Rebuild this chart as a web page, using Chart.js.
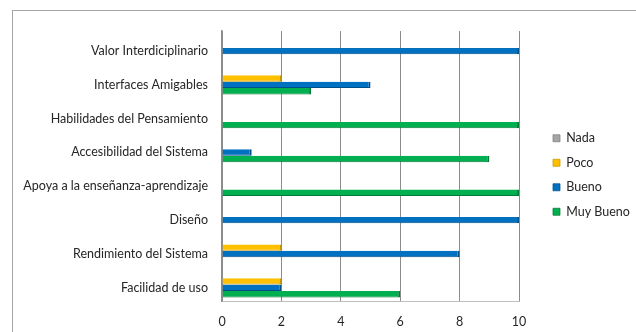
<!DOCTYPE html>
<html>
<head>
<meta charset="utf-8">
<script src="https://cdn.jsdelivr.net/npm/chart.js@4.4.1/dist/chart.umd.min.js"></script>
<style>
  html, body { margin: 0; padding: 0; background: #fff; overflow: hidden; }
  #marco { position: absolute; left: 12px; top: 10px; width: 700px; height: 400px;
           border-left: 1px solid #a6a6a6; border-top: 1px solid #a6a6a6; }
  #grafico { position: absolute; left: 0; top: 0; }
</style>
</head>
<body>
<div id="marco"></div>
<canvas id="grafico" width="636" height="332"></canvas>
<script>
const ctx = document.getElementById('grafico')

// datos
const categorias = ['Valor Interdiciplinario', 'Interfaces Amigables', 'Habilidades del Pensamiento',
  'Accesibilidad del Sistema', 'Apoya a la enseñanza-aprendizaje', 'Diseño',
  'Rendimiento del Sistema', 'Facilidad de uso']
const nada     = [0, 0, 0, 0, 0, 0, 0, 0]
const poco     = [0, 2, 0, 0, 0, 0, 2, 2]
const bueno    = [10, 5, 0, 1, 0, 10, 8, 2]
const muyBueno = [0, 3, 10, 9, 10, 0, 0, 6]
const ticksX   = [0, 2, 4, 6, 8, 10]

Chart.defaults.font.family = 'Lato, "Open Sans", sans-serif'
Chart.defaults.font.size = 12.5
Chart.defaults.color = '#262626'

const serie = (label, data, color, borde) => ({
  label, data,
  backgroundColor: color,
  borderColor: borde,
  borderWidth: { top: 0, right: 2, bottom: 1, left: 0 },
  borderSkipped: 'left',
  barPercentage: 1,
  categoryPercentage: 0.757
})

// mueve la leyenda a su sitio
const moverLeyenda = {
  id: 'moverLeyenda',
  afterLayout(chart) {
    const l = chart.legend
    const w = l.right - l.left, h = l.bottom - l.top
    l.left = 541; l.right = l.left + w
    l.top = 120; l.bottom = l.top + h
  }
}

const grafico = new Chart(ctx, {
  type: 'bar',
  data: {
    labels: categorias,
    datasets: [
      serie('Nada', nada, '#a5a5a5', '#7f7f7f'),
      serie('Poco', poco, '#ffc000', '#c69500'),
      serie('Bueno', bueno, '#0070c0', '#004f88'),
      serie('Muy Bueno', muyBueno, '#00b050', '#007a37')
    ]
  },
  options: {
    indexAxis: 'y',
    responsive: false,
    animation: false,
    layout: { padding: { left: 10, top: 31, right: 18, bottom: 0 } },
    plugins: {
      tooltip: { enabled: false },
      legend: {
        position: 'right',
        align: 'start',
        labels: { boxWidth: 7, boxHeight: 7, padding: 12, color: '#262626', font: { size: 12.5 } }
      }
    },
    scales: {
      x: {
        min: 0, max: 10,
        afterBuildTicks: s => { s.ticks = ticksX.map(v => ({ value: v })) },
        afterFit: s => { s.height = 30.5 },
        grid: { color: '#8c8c8c', lineWidth: 1, drawTicks: false },
        border: { display: true, color: '#bfbfbf' },
        ticks: { padding: 13, color: '#262626', maxRotation: 0 }
      },
      y: {
        afterFit: s => { s.width = 212 },
        grid: { display: false, drawTicks: false },
        border: { display: true, color: '#8c8c8c', width: 1.5 },
        ticks: { padding: 14, color: '#262626', autoSkip: false, labelOffset: 3 }
      }
    }
  },
  plugins: [moverLeyenda]
})
</script>
</body>
</html>
